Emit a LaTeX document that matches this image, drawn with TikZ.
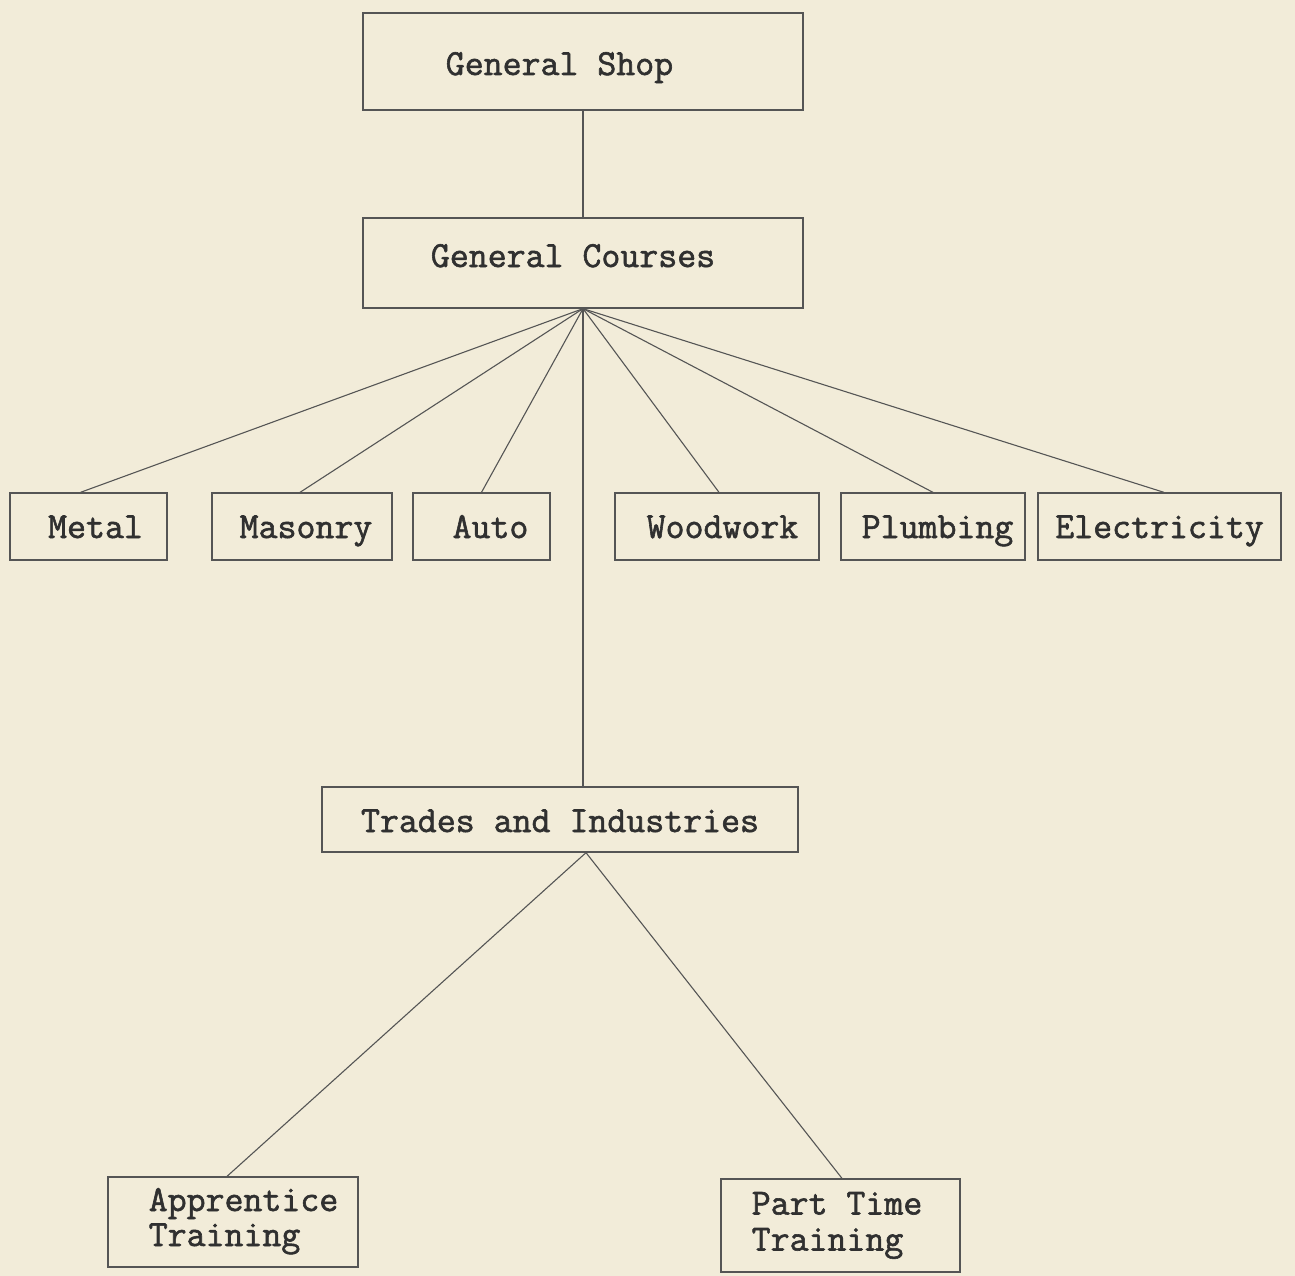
\documentclass[tikz,border=0pt]{standalone}
\usepackage{fontspec}
\newfontfamily\typew{Latin Modern Mono}[FakeBold=1.6]
\definecolor{paper}{HTML}{F2ECD9}
\definecolor{ink}{HTML}{303030}
\definecolor{linec}{HTML}{555555}
\newcommand\txt[3]{\raisebox{#2}[0pt][0pt]{\kern#1\relax#3\kern-#1\relax}}
\begin{document}
\begin{tikzpicture}[x=1pt,y=-1pt,
  box/.style={draw=linec, line width=1.3pt, rectangle, inner sep=0pt, text=ink,
    font=\typew\fontsize{36.8}{34}\selectfont},
  conn/.style={draw=linec, line width=1.1pt}]
\fill[paper] (0,0) rectangle (1295,1276);
% top boxes
\node[box, minimum width=440pt, minimum height=97pt] (gshop) at (583,61.5)
  {\txt{-23.5pt}{-13.5pt}{General Shop}};
\node[box, minimum width=440pt, minimum height=90pt] (gcourses) at (583,263)
  {\txt{-10pt}{-4pt}{General Courses}};
% row of trades
\node[box, minimum width=157pt, minimum height=67pt] (metal) at (88.5,526.5)
  {\txt{7pt}{-11.5pt}{Metal}};
\node[box, minimum width=180pt, minimum height=67pt] (masonry) at (302,526.5)
  {\txt{4pt}{-11.5pt}{Masonry}};
\node[box, minimum width=137pt, minimum height=67pt] (auto) at (481.5,526.5)
  {\txt{9pt}{-11.5pt}{Auto}};
\node[box, minimum width=204pt, minimum height=67pt] (woodwork) at (717,526.5)
  {\txt{5.5pt}{-11.5pt}{Woodwork}};
\node[box, minimum width=184pt, minimum height=67pt] (plumbing) at (933,526.5)
  {\txt{4.5pt}{-11.5pt}{Plumbing}};
\node[box, minimum width=243pt, minimum height=67pt] (electricity) at (1159.5,526.5)
  {\txt{0pt}{-11.5pt}{Electricity}};
% trades and industries
\node[box, minimum width=476pt, minimum height=65pt] (trades) at (560,819.5)
  {\txt{0pt}{-12.5pt}{Trades and Industries}};
% bottom boxes
\node[box, minimum width=250pt, minimum height=90pt] (apprentice) at (233,1222)
  {\txt{10.5pt}{11pt}{\begin{tabular}[t]{@{}l@{}}Apprentice\\[1pt]Training\end{tabular}}};
\node[box, minimum width=239pt, minimum height=93pt] (parttime) at (840.5,1225.5)
  {\txt{-3.5pt}{11pt}{\begin{tabular}[t]{@{}l@{}}Part Time\\[2pt]Training\end{tabular}}};
% connectors
\draw[conn] (gshop.south) -- (gcourses.north);
\draw[conn] (gcourses.south) -- ([xshift=-8pt]metal.north);
\draw[conn] (gcourses.south) -- ([xshift=-2pt]masonry.north);
\draw[conn] (gcourses.south) -- (auto.north);
\draw[conn] (gcourses.south) -- ([xshift=2pt]woodwork.north);
\draw[conn] (gcourses.south) -- (plumbing.north);
\draw[conn] (gcourses.south) -- ([xshift=4.5pt]electricity.north);
\draw[conn] (gcourses.south) -- (gcourses.south |- trades.north);
\coordinate (tapex) at ([xshift=3pt]gcourses.south |- trades.south);
\draw[conn] (tapex) -- ([xshift=-6pt]apprentice.north);
\draw[conn] (tapex) -- ([xshift=1.5pt]parttime.north);
\end{tikzpicture}
\end{document}
